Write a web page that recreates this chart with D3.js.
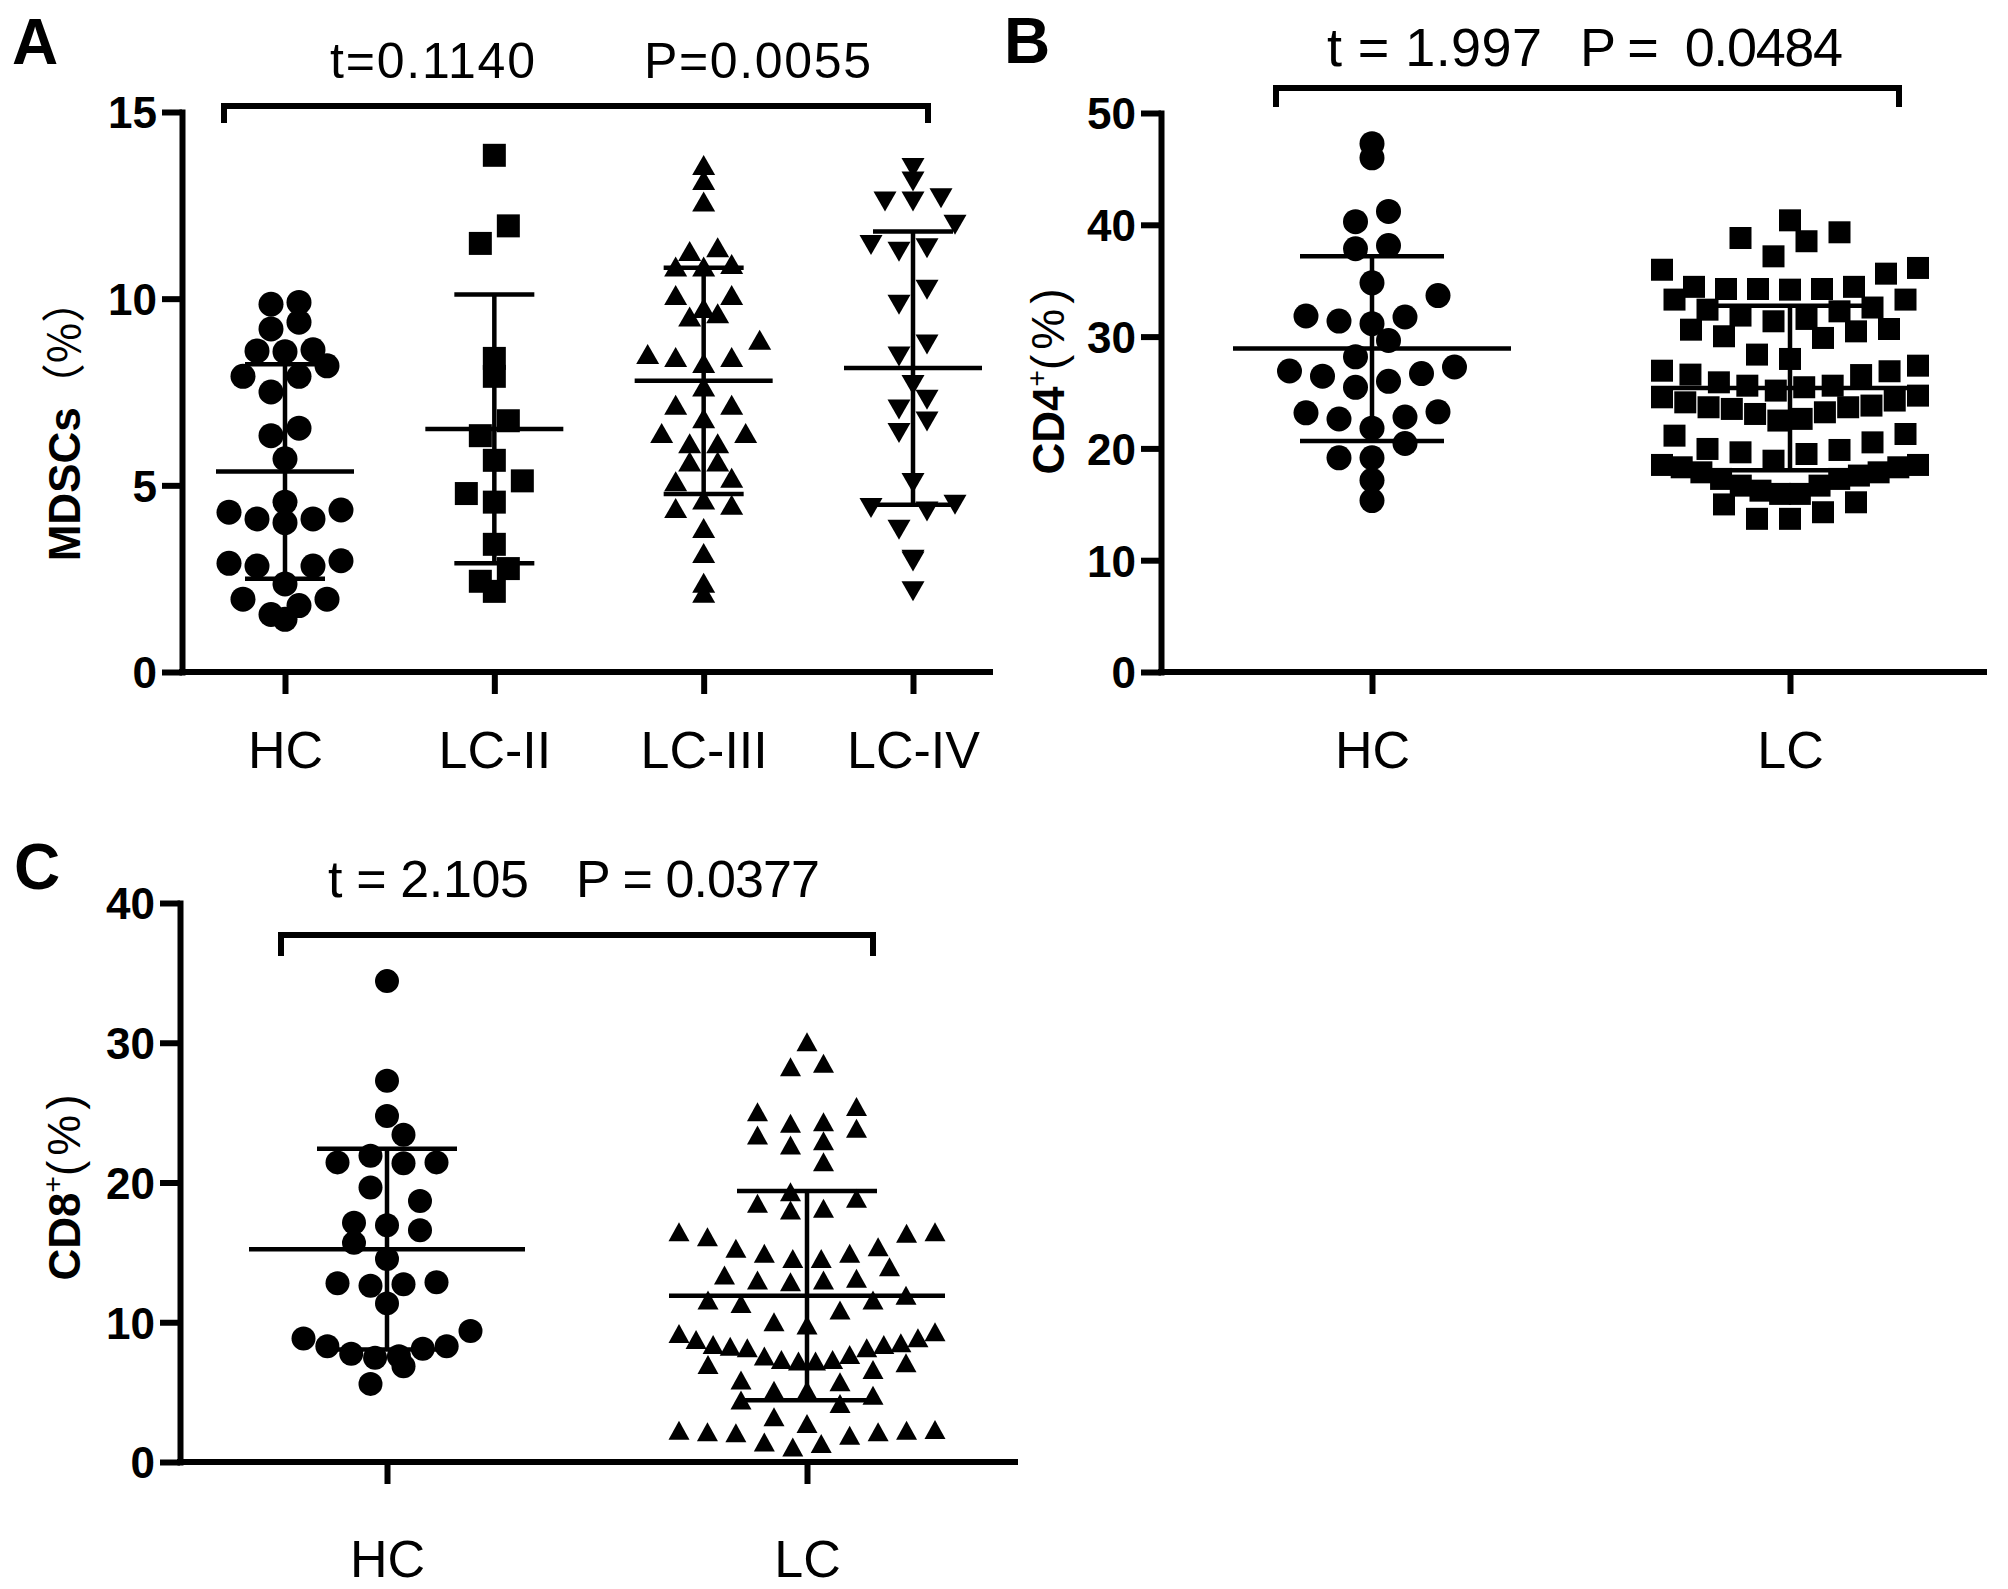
<!DOCTYPE html>
<html>
<head>
<meta charset="utf-8">
<script src="https://cdn.jsdelivr.net/npm/d3@7"></script>
<style>
body{margin:0;background:#fff;}
svg{display:block;font-family:"Liberation Sans",Arial,sans-serif;}
</style>
</head>
<body>
<svg id="fig" width="2008" height="1589"></svg>
<script>
// ---- panel A : MDSCs (%) ----
var catsA = ["HC", "LC-II", "LC-III", "LC-IV"];
var mdscHC = [9.85, 9.9, 9.19, 9.37, 8.6, 8.58, 8.63, 8.2, 7.92, 7.92, 7.5, 6.53, 6.33, 5.71, 4.34,
  4.55, 4.1, 4.0, 4.1, 4.28, 2.91, 2.84, 2.84, 2.98, 2.36, 1.95, 1.78, 1.95, 1.41, 1.54];
var mdscLC2 = [13.84, 11.95, 11.48, 8.4, 7.92, 6.73, 6.33, 5.67, 5.12, 4.78, 4.55, 3.42, 2.77, 2.43, 2.16];
var mdscLC3 = [13.58, 13.18, 12.6, 11.28, 11.38, 10.86, 10.86, 10.93, 10.1, 10.1, 9.75, 9.52, 9.61,
  8.9, 8.52, 8.44, 8.28, 8.44, 7.65, 7.16, 7.16, 6.8, 6.4, 6.4, 6.13, 6.13, 5.64, 5.64, 5.2, 5.11,
  4.62, 4.39, 4.48, 3.86, 3.19, 2.39, 2.12];
var mdscLC4 = [13.5, 13.14, 12.69, 12.6, 12.6, 11.98, 11.35, 11.26, 11.44, 10.24, 9.84, 8.77, 8.45,
  7.69, 7.29, 7.03, 6.71, 6.4, 5.06, 4.48, 4.3, 4.39, 3.81, 3.01, 2.96, 2.16];
var mdscMean = [5.37, 6.51, 7.8, 8.14];
var mdscSD = [2.87, 3.6, 3.03, 3.66];
var ticksA = [0, 5, 10, 15];
var statsA = ["t=0.1140", "P=0.0055"];

// ---- panel B : CD4+ (%) ----
var catsB = ["HC", "LC"];
var cd4HC = [47.26, 45.99, 41.2, 40.28, 37.86, 38.14, 34.81, 33.67, 31.75, 31.39, 31.16, 31.84, 29.65,
  28.19, 26.92, 26.46, 26.0, 26.69, 27.28, 25.46, 23.18, 22.63, 22.81, 23.27, 21.81, 20.44, 19.16,
  19.16, 17.15, 15.33];
var cd4LC = [40.4, 39.33, 38.82, 38.53, 37.18, 36.14, 35.98, 35.63, 34.45, 34.45, 34.26, 34.26, 34.26,
  34.2, 33.31, 33.31, 32.6,
  32.41, 32.26, 31.88, 31.58, 31.37, 30.68, 30.62, 30.47, 30.03, 29.88,
  28.39, 28.0, 27.4, 26.95, 26.9, 26.6, 26.56, 25.91, 25.61, 25.61,
  25.47, 24.72, 24.28, 23.68, 23.53, 23.23, 22.64, 22.49, 23.08, 23.68, 23.83, 24.12, 24.57, 25.17,
  21.29, 21.14, 20.54, 19.95, 19.86, 19.65, 19.5, 18.9,
  18.52, 18.31, 17.86, 17.57, 17.27, 16.67, 15.93, 15.93, 16.22, 16.67, 17.27, 17.86, 18.31, 18.52,
  15.18, 14.99, 14.29, 13.7, 13.7];
var cd4Mean = [28.93, 25.4];
var cd4SD = [8.26, 7.35];
var ticksB = [0, 10, 20, 30, 40, 50];
var statsB = ["t = 1.997", "P =  0.0484"];

// ---- panel C : CD8+ (%) ----
var catsC = ["HC", "LC"];
var cd8HC = [34.41, 27.28, 24.76, 23.42, 21.44, 21.44, 21.37, 21.91, 19.64, 18.67, 16.94, 16.58, 17.12,
  15.68, 14.52, 12.86, 12.72, 12.61, 12.79, 11.35, 9.37, 7.75, 7.46, 8.29, 8.29, 7.57, 8.83, 8.11,
  6.85, 5.59];
var cd8LC = [30.08, 28.53, 28.29, 25.43, 25.07, 24.35, 24.24, 23.88, 23.4, 22.99, 22.68, 21.49,
  19.34, 18.87, 18.51, 18.15, 18.03,
  16.48, 16.48, 16.36, 16.12, 15.4, 15.29, 14.93, 14.93, 14.57, 14.57, 13.97,
  13.38, 13.14, 13.02, 13.02, 12.9,
  11.94, 11.59, 11.59, 11.35, 10.87,
  10.03, 9.8, 9.32, 9.2,
  8.89, 8.53, 8.41, 8.17, 7.7, 7.34, 7.22, 7.1, 6.62, 6.98, 7.22, 7.34, 7.58, 8.17, 8.29, 8.41, 8.77,
  5.86, 5.74, 5.14, 5.14, 4.78, 4.43, 4.19,
  3.23, 2.76, 2.33, 2.28, 2.28, 2.16, 2.16, 2.1, 1.92, 1.44, 1.32, 1.08];
var cd8Mean = [15.23, 11.9];
var cd8SD = [7.18, 7.49];
var ticksC = [0, 10, 20, 30, 40];
var statsC = ["t = 2.105", "P = 0.0377"];

var svg = d3.select("#fig");

// marker outlines, centred on the value
function markPath(shape, w, h) {
  var r = w / 2;
  if (shape == "circle") return "M" + (-r) + ",0a" + r + "," + r + " 0 1,0 " + w + ",0a" + r + "," + r + " 0 1,0 " + (-w) + ",0Z";
  if (shape == "square") return "M" + (-r) + "," + (-r) + "h" + w + "v" + w + "h" + (-w) + "Z";
  if (shape == "up") return "M0," + (-h / 2) + "L" + r + "," + (h / 2) + "L" + (-r) + "," + (h / 2) + "Z";
  return "M0," + (h / 2) + "L" + r + "," + (-h / 2) + "L" + (-r) + "," + (-h / 2) + "Z";
}

// prism style rows: points binned by height, spread out from the centre, lowest in the middle
function rowLayout(vals, y, binPx, step, maxSpan) {
  var y0 = y(0);
  var rows = d3.group(vals.slice().sort(d3.ascending), function(v) { return Math.floor((y0 - y(v)) / binPx); });
  var out = [];
  rows.forEach(function(row) {
    var n = row.length, s = n > 1 ? Math.min(step, maxSpan / (n - 1)) : 0;
    row.forEach(function(v, i) {
      var k;
      if (n % 2) k = i === 0 ? 0 : (i % 2 ? -1 : 1) * Math.ceil(i / 2);
      else k = (i % 2 ? 1 : -1) * (Math.floor(i / 2) + 0.5);
      out.push({v: v, dx: k * s});
    });
  });
  return out;
}

function drawPanel(p) {
  var g = svg.append("g");
  var y = d3.scaleLinear().domain([0, d3.max(p.ticks)]).range([p.bottom, p.top]);
  var x = d3.scalePoint().domain(p.cats).range([p.xFirst, p.xLast]);

  // points
  p.groups.forEach(function(grp, gi) {
    var cx = x(p.cats[gi]);
    g.append("g").selectAll("path")
      .data(rowLayout(grp.vals, y, p.bin, p.step, grp.span))
      .join("path")
      .attr("d", markPath(grp.shape, grp.w, grp.h))
      .attr("transform", function(d) { return "translate(" + (cx + d.dx) + "," + y(d.v) + ")"; })
      .attr("fill", "#000");
  });

  // mean and SD bars
  var eb = g.append("g").attr("stroke", "#000").attr("stroke-width", 4.5).attr("fill", "none");
  p.cats.forEach(function(c, i) {
    var cx = x(c), m = p.mean[i], s = p.sd[i];
    eb.append("line").attr("x1", cx).attr("x2", cx).attr("y1", y(m - s)).attr("y2", y(m + s));
    eb.append("line").attr("x1", cx - p.meanHalf).attr("x2", cx + p.meanHalf).attr("y1", y(m)).attr("y2", y(m));
    [m - s, m + s].forEach(function(v) {
      eb.append("line").attr("x1", cx - p.capHalf).attr("x2", cx + p.capHalf).attr("y1", y(v)).attr("y2", y(v));
    });
  });

  // axes
  var ya = g.append("g").attr("transform", "translate(" + p.left + ",0)")
    .call(d3.axisLeft(y).tickValues(p.ticks).tickSize(20).tickSizeOuter(0).tickPadding(5));
  ya.select(".domain").attr("stroke-width", 6).attr("stroke-linecap", "square");
  ya.selectAll(".tick line").attr("stroke-width", 6);
  ya.selectAll(".tick text").attr("font-family", "Liberation Sans, Arial, sans-serif")
    .attr("font-size", 44).attr("font-weight", "bold").attr("fill", "#000").attr("dy", "0.36em");

  g.append("line").attr("x1", p.left - 3).attr("x2", p.right).attr("y1", p.bottom).attr("y2", p.bottom)
    .attr("stroke", "#000").attr("stroke-width", 6);
  var xa = g.append("g").attr("transform", "translate(0," + p.bottom + ")")
    .call(d3.axisBottom(x).tickSize(22).tickSizeOuter(0));
  xa.select(".domain").remove();
  xa.selectAll(".tick line").attr("stroke-width", 6);
  xa.selectAll(".tick text").attr("font-family", "Liberation Sans, Arial, sans-serif")
    .attr("font-size", 52).attr("fill", "#000").attr("y", p.labelBase - p.bottom).attr("dy", 0);

  // bracket and test result
  g.append("path")
    .attr("d", "M" + p.br[0] + "," + p.br[3] + "V" + p.br[2] + "H" + p.br[1] + "V" + p.br[3])
    .attr("fill", "none").attr("stroke", "#000").attr("stroke-width", 6);
  p.stats.forEach(function(t, i) {
    g.append("text").attr("x", p.statX[i][0]).attr("y", p.statBase)
      .attr("textLength", p.statX[i][1] - p.statX[i][0]).attr("lengthAdjust", "spacing")
      .attr("font-size", p.statSize).style("white-space", "pre").text(t);
  });

  // panel letter
  g.append("text").attr("x", p.letter[0]).attr("y", p.letter[1]).attr("font-size", 64)
    .attr("font-weight", "bold").text(p.letter[2]);

  // y title, rotated
  var yt = g.append("text").attr("transform", "translate(" + p.title[0] + "," + p.title[1] + ") rotate(-90)")
    .attr("text-anchor", "middle").attr("font-size", 44);
  p.titleParts(yt);
}

drawPanel({
  cats: catsA, ticks: ticksA, mean: mdscMean, sd: mdscSD, stats: statsA,
  groups: [
    {vals: mdscHC, shape: "circle", w: 25, span: 116},
    {vals: mdscLC2, shape: "square", w: 23, span: 116},
    {vals: mdscLC3, shape: "up", w: 23, h: 20, span: 116},
    {vals: mdscLC4, shape: "down", w: 23, h: 20, span: 116}
  ],
  left: 182, right: 993, top: 112, bottom: 672, xFirst: 285, xLast: 913,
  bin: 28, step: 28, meanHalf: 69, capHalf: 40, labelBase: 768,
  br: [224, 928, 106, 123], statX: [[330, 535], [644, 871]], statBase: 78, statSize: 50,
  letter: [12, 64, "A"], title: [80, 420],
  titleParts: function(t) {
    t.append("tspan").attr("font-weight", "bold").text("MDSCs");
    t.append("tspan").attr("font-family", "Noto Sans CJK SC").attr("font-weight", "normal").text("（%）");
  }
});

drawPanel({
  cats: catsB, ticks: ticksB, mean: cd4Mean, sd: cd4SD, stats: statsB,
  groups: [
    {vals: cd4HC, shape: "circle", w: 25, span: 167},
    {vals: cd4LC, shape: "square", w: 22, span: 256}
  ],
  left: 1161, right: 1987, top: 113, bottom: 672, xFirst: 1372, xLast: 1790,
  bin: 34.6, step: 33, meanHalf: 139, capHalf: 72, labelBase: 768,
  br: [1276, 1899, 88, 107], statX: [[1327, 1542], [1580, 1843]], statBase: 66, statSize: 54,
  letter: [1004, 63, "B"], title: [1064, 379],
  titleParts: function(t) {
    t.append("tspan").attr("font-weight", "bold").text("CD4");
    t.append("tspan").attr("font-size", 28).attr("dy", -18).text("+");
    t.append("tspan").attr("dy", 18).attr("font-size", 46).attr("letter-spacing", 5).text("(%)");
  }
});

drawPanel({
  cats: catsC, ticks: ticksC, mean: cd8Mean, sd: cd8SD, stats: statsC,
  groups: [
    {vals: cd8HC, shape: "circle", w: 24, span: 167},
    {vals: cd8LC, shape: "up", w: 21, h: 19, span: 256}
  ],
  left: 180, right: 1018, top: 903, bottom: 1462, xFirst: 387, xLast: 807,
  bin: 33.5, step: 33, meanHalf: 138, capHalf: 70, labelBase: 1577,
  br: [281, 873, 935, 956], statX: [[328, 529], [576, 820]], statBase: 897, statSize: 52,
  letter: [14, 889, "C"], title: [80, 1185],
  titleParts: function(t) {
    t.append("tspan").attr("font-weight", "bold").text("CD8");
    t.append("tspan").attr("font-size", 28).attr("dy", -18).text("+");
    t.append("tspan").attr("dy", 18).attr("font-size", 46).attr("letter-spacing", 5).text("(%)");
  }
});
</script>
</body>
</html>
